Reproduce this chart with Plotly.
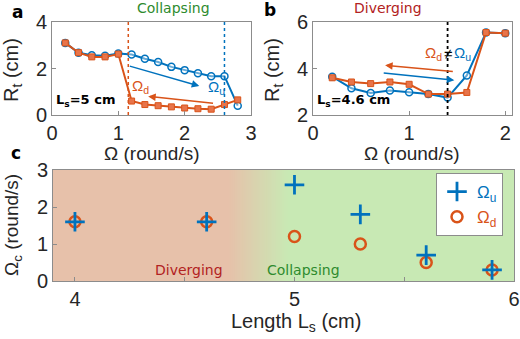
import plotly.graph_objects as go

# ---------------- data ----------------
omega_a = [0.2, 0.4, 0.6, 0.8, 1.0, 1.2, 1.4, 1.6, 1.8, 2.0, 2.2, 2.4, 2.6, 2.8]
rt_up_a = [3.1, 2.68, 2.57, 2.55, 2.65, 2.6, 2.42, 2.28, 2.07, 1.93, 1.8, 1.67, 1.67, 0.4]
rt_down_a = [3.1, 2.68, 2.5, 2.5, 2.62, 0.6, 0.45, 0.4, 0.35, 0.3, 0.27, 0.25, 0.45, 0.65]
omega_d_a = 1.15
omega_u_a = 2.6

omega_b = [0.2, 0.4, 0.6, 0.8, 1.0, 1.2, 1.4, 1.6, 1.8, 2.0]
rt_up_b = [3.65, 3.15, 2.95, 3.05, 2.98, 2.9, 2.75, 3.7, 5.55, 5.52]
rt_down_b = [3.6, 3.42, 3.35, 3.42, 3.32, 2.9, 2.9, 2.97, 5.55, 5.52]
omega_c_b = 1.4

length_ls = [4.0, 4.6, 5.0, 5.3, 5.6, 5.9]
omega_u_c = [1.6, 1.6, 2.6, 1.8, 0.7, 0.3]
omega_d_c = [1.6, 1.6, 1.2, 1.0, 0.5, 0.3]

BLUE = "#0072BD"
ORANGE = "#D95319"
GREEN_T = "#2E8B2E"
RED_T = "#B22222"
SALMON = (231, 193, 170)
GREEN_BG = (200, 233, 180)

FONT = "Liberation Sans, Arial, sans-serif"
TFONT = "DejaVu Sans, Verdana, sans-serif"

fig = go.Figure()

# ---------------- panel a ----------------
fig.add_trace(go.Scatter(x=omega_a, y=rt_up_a, mode="lines+markers", xaxis="x", yaxis="y",
                         line=dict(color=BLUE, width=2),
                         marker=dict(symbol="circle", size=7, color="rgba(255,255,255,0.4)",
                                     line=dict(color=BLUE, width=1.5)), showlegend=False))
fig.add_trace(go.Scatter(x=omega_a, y=rt_down_a, mode="lines+markers", xaxis="x", yaxis="y",
                         line=dict(color=ORANGE, width=2),
                         marker=dict(symbol="square", size=6, color="#E8744A",
                                     line=dict(color=ORANGE, width=1)), showlegend=False))
fig.add_trace(go.Scatter(x=[omega_d_a, omega_d_a], y=[0, 4], mode="lines", xaxis="x", yaxis="y",
                         line=dict(color=ORANGE, width=1.5, dash="dot"), showlegend=False))
fig.add_trace(go.Scatter(x=[omega_u_a, omega_u_a], y=[0, 4], mode="lines", xaxis="x", yaxis="y",
                         line=dict(color=BLUE, width=1.5, dash="dot"), showlegend=False))

# ---------------- panel b ----------------
fig.add_trace(go.Scatter(x=omega_b, y=rt_up_b, mode="lines+markers", xaxis="x2", yaxis="y2",
                         line=dict(color=BLUE, width=2),
                         marker=dict(symbol="circle", size=7, color="rgba(255,255,255,0.4)",
                                     line=dict(color=BLUE, width=1.5)), showlegend=False))
fig.add_trace(go.Scatter(x=omega_b, y=rt_down_b, mode="lines+markers", xaxis="x2", yaxis="y2",
                         line=dict(color=ORANGE, width=2),
                         marker=dict(symbol="square", size=6, color="#E8744A",
                                     line=dict(color=ORANGE, width=1)), showlegend=False))
fig.add_trace(go.Scatter(x=[omega_c_b, omega_c_b], y=[2, 6], mode="lines", xaxis="x2", yaxis="y2",
                         line=dict(color="black", width=1.8, dash="dot"), showlegend=False))

# ---------------- panel c ----------------
fig.add_trace(go.Scatter(x=length_ls, y=omega_d_c, mode="markers", xaxis="x3", yaxis="y3",
                         name='<span style="color:%s">Ω<sub>d</sub></span>' % ORANGE,
                         marker=dict(symbol="circle-open", size=11, color=ORANGE,
                                     line=dict(color=ORANGE, width=2.5))))
fig.add_trace(go.Scatter(x=length_ls, y=omega_u_c, mode="markers", xaxis="x3", yaxis="y3",
                         name='<span style="color:%s">Ω<sub>u</sub></span>' % BLUE,
                         marker=dict(symbol="cross-thin-open", size=14, color=BLUE,
                                     line=dict(color=BLUE, width=2.8))))

# background gradient for panel c
shapes = []
shapes.append(dict(type="rect", xref="x3", yref="y3 domain", x0=3.9, x1=4.705, y0=0, y1=1,
                   fillcolor="rgb(%d,%d,%d)" % SALMON, line=dict(width=0), layer="below"))
nstr = 30
g0, g1 = 4.70, 4.97
for i in range(nstr):
    t = (i + 0.5) / nstr
    c = tuple(int(round(SALMON[k] + (GREEN_BG[k] - SALMON[k]) * t)) for k in range(3))
    xa = g0 + (g1 - g0) * i / nstr
    xb = g0 + (g1 - g0) * (i + 1) / nstr + 0.004
    shapes.append(dict(type="rect", xref="x3", yref="y3 domain", x0=xa, x1=xb, y0=0, y1=1,
                       fillcolor="rgb(%d,%d,%d)" % c, line=dict(width=0), layer="below"))
shapes.append(dict(type="rect", xref="x3", yref="y3 domain", x0=g1, x1=6.0, y0=0, y1=1,
                   fillcolor="rgb(%d,%d,%d)" % GREEN_BG, line=dict(width=0), layer="below"))

axis_style = dict(showline=True, mirror=True, linecolor="#8c8c8c", linewidth=1,
                  ticks="inside", ticklen=4, tickcolor="#8c8c8c", showgrid=False, zeroline=False,
                  tickfont=dict(family=FONT, size=20, color="#262626"))

ann = []
def txt(x, y, s, size=20, color="#262626", xref="paper", yref="paper", angle=0, family=FONT,
        xanchor="center", yanchor="middle"):
    ann.append(dict(x=x, y=y, text=s, xref=xref, yref=yref, showarrow=False, textangle=angle,
                    font=dict(family=family, size=size, color=color),
                    xanchor=xanchor, yanchor=yanchor))

def arrow(x0, y0, x1, y1, color, xr, yr):
    ann.append(dict(x=x1, y=y1, ax=x0, ay=y0, xref=xr, yref=yr, axref=xr, ayref=yr,
                    showarrow=True, arrowhead=2, arrowsize=1, arrowwidth=1.5,
                    arrowcolor=color, text=""))

W, H = 520, 339
px = lambda v: v / W
py = lambda v: 1 - v / H

# panel labels
txt(px(17), py(12), "<b>a</b>", size=17, color="black", family=TFONT)
txt(px(270), py(10), "<b>b</b>", size=17, color="black", family=TFONT)
txt(px(16), py(153), "<b>c</b>", size=17, color="black", family=TFONT)
# titles
txt(px(173), py(8), "Collapsing", size=14, color=GREEN_T, family=TFONT)
txt(px(388), py(8), "Diverging", size=14, color=RED_T, family=TFONT)
# axis titles
txt(px(152), py(153), "Ω (round/s)", size=19)
txt(px(412), py(153), "Ω (round/s)", size=19)
txt(px(12), py(70), "R<sub>t</sub> (cm)", size=20, angle=-90)
txt(px(273), py(70), "R<sub>t</sub> (cm)", size=20, angle=-90)
txt(px(296), py(322), "Length L<sub>s</sub> (cm)", size=20)
txt(px(13), py(225), "Ω<sub>c</sub> (round/s)", size=19, angle=-90)
# inset texts
txt(0.01, 0.04, "<b>L<sub>s</sub>=5 cm</b>", size=13, color="black", xref="x domain", yref="y domain",
    family=TFONT, xanchor="left", yanchor="bottom")
txt(0.01, 0.04, "<b>L<sub>s</sub>=4.6 cm</b>", size=13, color="black", xref="x2 domain", yref="y2 domain",
    family=TFONT, xanchor="left", yanchor="bottom")
txt(4.52, 0.3, "Diverging", size=14, color=RED_T, xref="x3", yref="y3", family=TFONT)
txt(5.04, 0.3, "Collapsing", size=14, color=GREEN_T, xref="x3", yref="y3", family=TFONT)
# panel a arrows and labels
arrow(1.15, 2.12, 2.22, 1.25, BLUE, "x", "y")
arrow(2.45, 0.5, 1.45, 0.8, ORANGE, "x", "y")
txt(2.48, 1.2, "Ω<sub>u</sub>", size=15, color=BLUE, xref="x", yref="y")
txt(1.33, 1.22, "Ω<sub>d</sub>", size=15, color=ORANGE, xref="x", yref="y")
# panel b arrows and labels
arrow(1.47, 3.86, 0.75, 4.14, ORANGE, "x2", "y2")
arrow(0.72, 3.81, 1.47, 3.5, BLUE, "x2", "y2")
txt(1.36, 4.64, "Ω<sub>d</sub>", size=15, color=ORANGE, xref="x2", yref="y2", xanchor="right")
txt(1.4, 4.66, "≠", size=15, color="black", xref="x2", yref="y2")
txt(1.45, 4.64, "Ω<sub>u</sub>", size=15, color=BLUE, xref="x2", yref="y2", xanchor="left")

fig.update_layout(
    width=W, height=H, margin=dict(l=0, r=0, t=0, b=0, autoexpand=False),
    paper_bgcolor="white", plot_bgcolor="white",
    xaxis=dict(domain=[px(52), px(251)], range=[0, 3], tickvals=[0, 1, 2, 3], anchor="y", **axis_style),
    yaxis=dict(domain=[py(115), py(22)], range=[0, 4], tickvals=[0, 2, 4], anchor="x", **axis_style),
    xaxis2=dict(domain=[px(313), px(512)], range=[0, 2.07], tickvals=[0, 1, 2], anchor="y2", **axis_style),
    yaxis2=dict(domain=[py(115), py(22)], range=[2, 6], tickvals=[2, 4, 6], anchor="x2", **axis_style),
    xaxis3=dict(domain=[px(53), px(514)], range=[3.9, 6.0], tickvals=[4, 4.5, 5, 5.5, 6],
                ticktext=["4", "", "5", "", "6"], anchor="y3", **axis_style),
    yaxis3=dict(domain=[py(281), py(170)], range=[0, 3], tickvals=[0, 1, 2, 3], anchor="x3", **axis_style),
    shapes=shapes,
    annotations=ann,
    showlegend=True,
    legend=dict(x=px(503), y=py(173), xanchor="right", yanchor="top", bgcolor="white",
                bordercolor="#8c8c8c", borderwidth=1, traceorder="reversed",
                font=dict(family=FONT, size=17), itemwidth=30, tracegroupgap=0),
)

fig.write_html("out.html", config={"displayModeBar": False},
               post_script="document.body.style.margin='0';document.body.style.padding='0';")
